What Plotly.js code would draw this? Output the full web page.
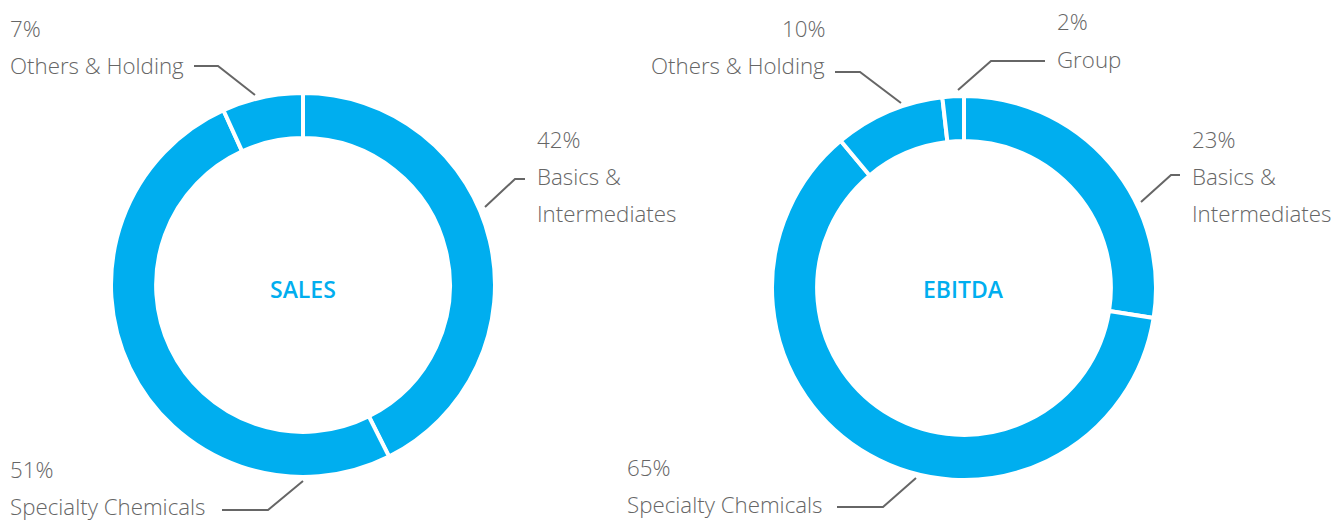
<!DOCTYPE html>
<html>
<head>
<meta charset="utf-8">
<script src="https://cdn.plot.ly/plotly-3.0.1.min.js"></script>
<style>html,body{margin:0;padding:0;background:#fff;}#chart{width:1335px;height:521px;}</style>
</head>
<body>
<div id="chart"></div>
<script>
// ---- data ----
const salesCategories = ['Basics & Intermediates', 'Specialty Chemicals', 'Others & Holding'];
// slice sizes as drawn in the picture
const salesValues = [42.6, 50.6, 6.8];
// percentages as printed in the labels
const salesPctLabels = ['42%', '51%', '7%'];

const ebitdaCategories = ['Basics & Intermediates', 'Specialty Chemicals', 'Others & Holding', 'Group'];
// slice sizes as drawn in the picture
const ebitdaValues = [27.5, 61.4, 9.3, 1.8];
// percentages as printed in the labels
const ebitdaPctLabels = ['23%', '65%', '10%', '2%'];

const centerTitles = ['SALES', 'EBITDA'];

// ---- layout helpers ----
const W = 1335, H = 521;
const px = x => x / W;
const py = y => 1 - y / H;

const BLUE = '#00aeef';
const GREY = '#666666';
const LINE = '#666666';
const labelFont = {family: 'Open Sans, Roboto, sans-serif', size: 22.3, color: GREY, weight: 300};

function domainFor(cx, cy, r) {
  return {x: [px(cx - r), px(cx + r)], y: [py(cy + r), py(cy - r)]};
}

const pieCommon = {
  type: 'pie', hole: 0.765, sort: false, direction: 'clockwise', rotation: 0,
  textinfo: 'none', hoverinfo: 'label+percent', showlegend: false
};

const traces = [
  Object.assign({}, pieCommon, {
    labels: salesCategories, values: salesValues,
    marker: {colors: salesValues.map(() => BLUE), line: {color: '#ffffff', width: 4}},
    domain: domainFor(303, 285, 192)
  }),
  Object.assign({}, pieCommon, {
    labels: ebitdaCategories, values: ebitdaValues,
    marker: {colors: ebitdaValues.map(() => BLUE), line: {color: '#ffffff', width: 4}},
    domain: domainFor(964, 288, 192)
  })
];

function txt(text, x, y, anchor) {
  return {text: text, x: px(x), y: py(y), xref: 'paper', yref: 'paper',
    xanchor: anchor, yanchor: 'middle', showarrow: false, font: labelFont};
}

const annotations = [
  // SALES
  txt(salesPctLabels[2], 8, 28, 'left'),
  txt('Others &amp; Holding', 8, 65, 'left'),
  txt(salesPctLabels[0], 535, 139, 'left'),
  txt('Basics &amp;', 535, 176, 'left'),
  txt('Intermediates', 535, 213, 'left'),
  txt(salesPctLabels[1], 8, 469, 'left'),
  txt('Specialty Chemicals', 8, 506, 'left'),
  // EBITDA
  txt(ebitdaPctLabels[2], 827, 28, 'right'),
  txt('Others &amp; Holding', 827, 65, 'right'),
  txt(ebitdaPctLabels[3], 1055, 22, 'left'),
  txt('Group', 1055, 60, 'left'),
  txt(ebitdaPctLabels[0], 1190, 139, 'left'),
  txt('Basics &amp;', 1190, 176, 'left'),
  txt('Intermediates', 1190, 213, 'left'),
  txt(ebitdaPctLabels[1], 625, 467, 'left'),
  txt('Specialty Chemicals', 625, 504, 'left'),
  // centre titles
  {text: centerTitles[0], x: px(303), y: py(289), xref: 'paper', yref: 'paper',
   showarrow: false, xanchor: 'center', yanchor: 'middle',
   font: {family: 'Open Sans, sans-serif', size: 23, color: BLUE, weight: 600}},
  {text: centerTitles[1], x: px(963), y: py(289), xref: 'paper', yref: 'paper',
   showarrow: false, xanchor: 'center', yanchor: 'middle',
   font: {family: 'Open Sans, sans-serif', size: 23, color: BLUE, weight: 600}}
];

function leader(points) {
  const d = points.map((p, i) => (i ? 'L' : 'M') + px(p[0]) + ',' + py(p[1])).join(' ');
  return {type: 'path', xref: 'paper', yref: 'paper', path: d, line: {color: LINE, width: 2}};
}

const shapes = [
  leader([[194, 66], [218, 66], [255, 95]]),
  leader([[525, 179], [515, 179], [485, 207]]),
  leader([[222, 510], [268, 510], [303, 481]]),
  leader([[835, 72], [860, 72], [901, 103]]),
  leader([[1045, 61], [991, 61], [958, 90]]),
  leader([[1180, 175], [1171, 175], [1141, 202]]),
  leader([[837, 507], [883, 507], [916, 478]])
];

const layout = {
  width: W, height: H,
  margin: {l: 0, r: 0, t: 0, b: 0},
  paper_bgcolor: '#ffffff', plot_bgcolor: '#ffffff',
  annotations: annotations, shapes: shapes, showlegend: false
};

Plotly.newPlot('chart', traces, layout, {displayModeBar: false, staticPlot: true});
</script>
</body>
</html>
